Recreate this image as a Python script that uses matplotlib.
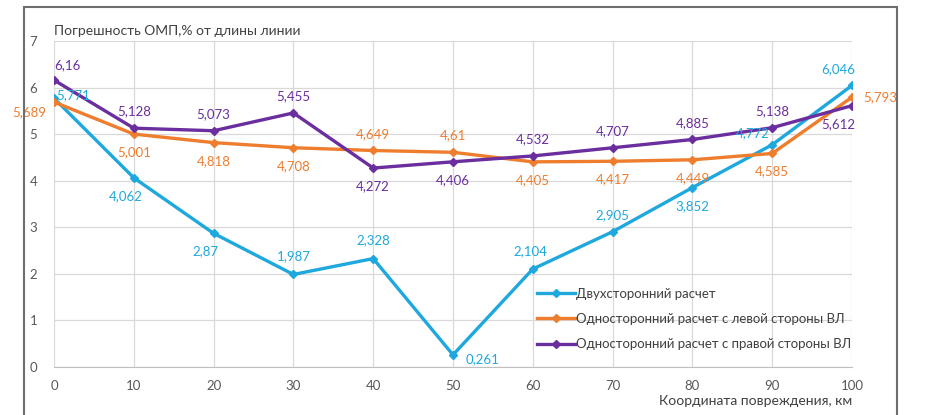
import matplotlib
matplotlib.use("Agg")
import matplotlib.pyplot as plt
from matplotlib.patches import Rectangle

plt.rcParams['font.family'] = ['Lato', 'DejaVu Sans']

x_km = [0, 10, 20, 30, 40, 50, 60, 70, 80, 90, 100]
two_sided = [5.771, 4.062, 2.87, 1.987, 2.328, 0.261, 2.104, 2.905, 3.852, 4.772, 6.046]
left_side = [5.689, 5.001, 4.818, 4.708, 4.649, 4.61, 4.405, 4.417, 4.449, 4.585, 5.793]
right_side = [6.16, 5.128, 5.073, 5.455, 4.272, 4.406, 4.532, 4.707, 4.885, 5.138, 5.612]

series_names = ["Двухсторонний расчет",
                "Односторонний расчет с левой стороны ВЛ",
                "Односторонний расчет с правой стороны ВЛ"]
colors = ["#1FA8DD", "#EE7D2E", "#6A2E9E"]

# label offsets (points) per series point
off_two = [(14, 2), (-6, -13), (-6, -13), (0, 13), (0, 13), (21, -3), (-2, 13), (0, 12), (0, -13), (-14, 8), (-10, 12)]
off_left = [(-18, -7), (0, -13), (0, -13), (0, -13), (0, 12), (0, 12), (0, -13), (0, -13), (0, -13), (0, -13), (20, 0)]
off_right = [(10, 11), (0, 12), (0, 12), (0, 12), (0, -13), (0, -13), (0, 12), (0, 12), (0, 12), (0, 12), (-10, -13)]

def fmt(v):
    return f"{v:g}".replace(".", ",")

fig = plt.figure(figsize=(9.26, 4.15), dpi=100)
ax = fig.add_axes([54/926, 1-367/415, (852-54)/926, (367-41)/415])

for data, name, col, offs in [(two_sided, series_names[0], colors[0], off_two),
                              (left_side, series_names[1], colors[1], off_left),
                              (right_side, series_names[2], colors[2], off_right)]:
    ax.plot(x_km, data, color=col, lw=2.4, marker="D", ms=4.5, label=name, zorder=3)
    for xv, yv, (dx, dy) in zip(x_km, data, offs):
        ax.annotate(fmt(yv), (xv, yv), xytext=(dx, dy), textcoords="offset points",
                    ha="center", va="center", fontsize=9.5, color=col, zorder=4)

ax.set_xlim(0, 100)
ax.set_ylim(0, 7)
ax.set_xticks(x_km)
ax.set_yticks(range(0, 8))
ax.grid(True, color="#D9D9D9", lw=0.9)
ax.set_axisbelow(True)
for s in ["top", "right", "left"]:
    ax.spines[s].set_visible(False)
ax.spines["bottom"].set_color("#BFBFBF")
ax.tick_params(axis="both", length=0, labelsize=9.5, labelcolor="#595959")
ax.tick_params(axis="x", pad=9)
ax.tick_params(axis="y", pad=12)

ax.text(0.005, 7.09, "Погрешность ОМП,% от длины линии", fontsize=10,
        color="#404040", ha="left", va="bottom", transform=ax.transData)
ax.text(1.0, -0.085, "Координата повреждения, км", fontsize=10,
        color="#404040", ha="right", va="top", transform=ax.transAxes)

leg = ax.legend(loc="lower left", bbox_to_anchor=(0.59, 0.015), frameon=False,
                fontsize=9.5, labelcolor="#404040", handlelength=2.9,
                handletextpad=0.1, labelspacing=1.0)

# outer frame of the chart
fig.add_artist(Rectangle((24/926, -0.05), (897-24)/926, 1-7/415+0.05,
                         transform=fig.transFigure, fill=False,
                         edgecolor="#6E6E6E", lw=1.5))

fig.savefig("out.png", dpi=100)
